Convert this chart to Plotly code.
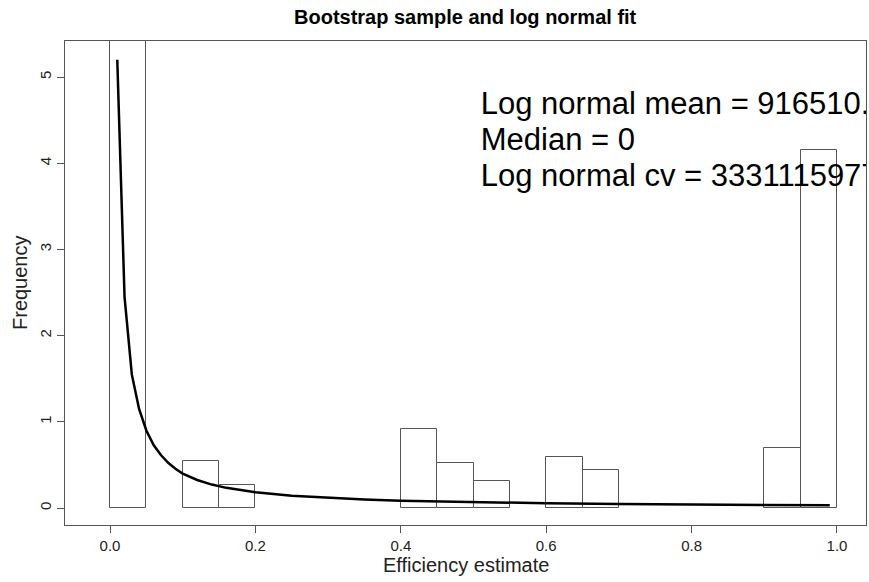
import plotly.graph_objects as go

# Histogram (density) bins of width 0.05
bin_left = [0.00, 0.10, 0.15, 0.40, 0.45, 0.50, 0.60, 0.65, 0.90, 0.95]
bin_density = [11.56, 0.545, 0.263, 0.92, 0.518, 0.317, 0.588, 0.441, 0.692, 4.153]
bin_width = 0.05

# Log normal fitted density curve
curve_x = [0.01, 0.02, 0.03, 0.04, 0.05, 0.06, 0.07, 0.08, 0.09, 0.10,
           0.12, 0.14, 0.16, 0.18, 0.20, 0.25, 0.30, 0.35, 0.40, 0.50,
           0.60, 0.70, 0.80, 0.90, 0.99]
curve_y = [5.20, 2.45, 1.55, 1.15, 0.90, 0.73, 0.615, 0.525, 0.455, 0.40,
           0.325, 0.272, 0.234, 0.205, 0.182, 0.142, 0.117, 0.0985, 0.085, 0.067,
           0.055, 0.0465, 0.040, 0.035, 0.031]

label_lines = ["Log normal mean = 916510.3", "Median = 0", "Log normal cv = 3331115977"]
label_x = [0.510, 0.510, 0.510]
label_y = [4.665, 4.245, 3.828]

x_ticks = [0.0, 0.2, 0.4, 0.6, 0.8, 1.0]
y_ticks = [0, 1, 2, 3, 4, 5]

FONT = "Liberation Sans, Arial, Helvetica, sans-serif"
LINE = "#555555"

fig = go.Figure()
fig.add_trace(go.Bar(
    x=[l + bin_width / 2 for l in bin_left], y=bin_density, width=bin_width,
    marker=dict(color="white", line=dict(color=LINE, width=1)),
    showlegend=False, hoverinfo="skip"))
fig.add_trace(go.Scatter(
    x=curve_x, y=curve_y, mode="lines",
    line=dict(color="black", width=2.5), showlegend=False))
fig.add_trace(go.Scatter(
    x=label_x, y=label_y, mode="text", text=label_lines,
    textposition="middle right", cliponaxis=True,
    textfont=dict(family=FONT, size=31, color="black"), showlegend=False))

fig.update_layout(
    width=869, height=582,
    margin=dict(l=65, r=3, t=41, b=57),
    paper_bgcolor="white", plot_bgcolor="white",
    font=dict(family=FONT, color="#222222"),
    bargap=0,
    xaxis=dict(range=[-0.0619, 1.0399], tickvals=x_ticks, tickformat=".1f",
               ticks="outside", ticklen=7, tickcolor=LINE,
               showline=True, mirror=True, linecolor=LINE, linewidth=1,
               showgrid=False, zeroline=False, tickfont=dict(size=15)),
    yaxis=dict(range=[-0.197, 5.418], tickvals=y_ticks, tickangle=-90,
               ticks="outside", ticklen=7, tickcolor=LINE,
               showline=True, mirror=True, linecolor=LINE, linewidth=1,
               showgrid=False, zeroline=False, tickfont=dict(size=15)),
    annotations=[
        dict(text="<b>Bootstrap sample and log normal fit</b>", xref="paper", yref="paper",
             x=0.5, y=1, yshift=24, showarrow=False, xanchor="center", yanchor="middle",
             font=dict(family=FONT, size=20, color="black")),
        dict(text="Efficiency estimate", xref="paper", yref="paper",
             x=0.5, y=0, yshift=-40, showarrow=False, xanchor="center", yanchor="middle",
             font=dict(family=FONT, size=20, color="#222222")),
        dict(text="Frequency", xref="paper", yref="paper", textangle=-90,
             x=0, y=0.5, xshift=-45, showarrow=False, xanchor="center", yanchor="middle",
             font=dict(family=FONT, size=20, color="#222222")),
    ],
)

fig.write_html("out.html")
